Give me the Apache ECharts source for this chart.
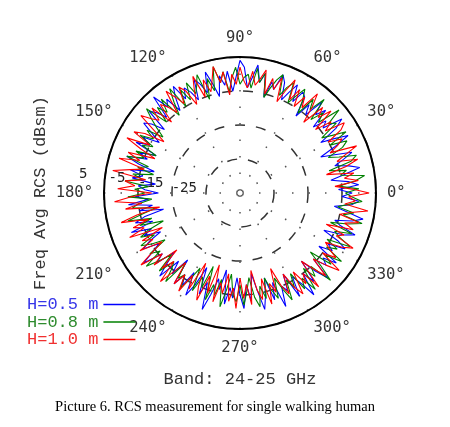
<!DOCTYPE html>
<html>
<head>
<meta charset="utf-8">
<script src="https://cdn.jsdelivr.net/npm/echarts@6/dist/echarts.min.js"></script>
<style>
html,body{margin:0;padding:0;background:#fff;}
#chart{width:450px;height:427px;}
</style>
</head>
<body>
<div id="chart"></div>
<script>
// Sample angles (degrees), 2-degree steps
const angleStep = 2;
const angles = Array.from({length: 180}, (_, i) => i * angleStep);

// Frequency-averaged RCS (dBsm) per angle (one row = 30 degrees)
const rcsH05 = [
  -2, -6, 0, -3, -8, -4, 1, -2, -6, -3, 0, -5, -9, -4, 1,
  -3, -7, -1, 2, -4, -2, -6, 0, -3, 1, -5, -2, -7, -1, 0,
  -4, 1, -2, -5, 0, 2, -3, -1, -6, 1, -2, 3, -1, -4, 2,
  4, -1, -5, 1, -3, 0, -6, -2, 2, -4, -1, 1, -5, -2, 0,
  -3, 2, -1, -5, 0, -2, 3, -4, -1, 1, -6, -2, 0, -4, -7,
  -2, -5, -1, -8, -3, -6, 0, -4, -9, -2, -6, -3, -10, -5, -7,
  -11, -4, -8, -2, -9, -5, -12, -6, -3, -8, -1, -7, -4, -9, -5,
  -2, -7, -4, 0, -6, -3, -9, -5, -1, -8, -4, -10, -2, -6, -3,
  -8, -1, -5, -11, -3, -7, 1, -4, -9, -6, -12, -2, -7, -4, -10,
  -5, -1, -8, -3, -11, -6, 0, -4, -9, -2, -7, 1, -5, -3, -8,
  0, -6, -3, 2, -5, -1, -8, -3, 1, -6, -2, -4, 0, -7, -3,
  -5, 0, -3, -8, -2, 1, -4, -6, -1, 2, -3, -7, -2, 0, -5
];
const rcsH08 = [
  -4, 0, -6, -1, 2, -5, -3, -8, -1, 1, -4, -7, -2, 0, -5,
  1, -3, -6, 0, -2, 3, -4, -1, -5, 2, -3, 0, -6, -2, 1,
  -2, -5, 1, -1, -4, 2, 0, -3, -6, 1, -2, 2, -4, 0, -1,
  -3, 2, -1, -5, 1, -2, 3, -4, 0, -6, 2, -1, -3, 1, -4,
  0, -5, 2, -2, -6, 1, -3, 0, -5, 2, -1, -4, -7, -2, -5,
  -1, -6, -3, -8, -2, -5, 0, -7, -4, -9, -3, -6, -1, -8, -4,
  -7, -2, -9, -5, -3, -10, -6, -1, -8, -4, -11, -6, -3, -7, -2,
  -5, -9, -3, -6, 0, -4, -8, -2, -7, -5, -1, -9, -4, -6, -2,
  -6, -10, -3, -8, -5, -12, -2, -7, -4, -9, -1, -6, -11, -5, -3,
  -8, -2, -6, -10, -4, -1, -7, -3, -9, -5, -2, -8, -4, 0, -6,
  -3, -7, -1, -4, 1, -6, -2, -5, 2, -3, -8, -1, -4, 1, -5,
  -2, -6, 1, -3, -5, 0, -7, -2, 2, -4, -1, -6, -3, 1, -2
];
const rcsH10 = [
  3, -2, -7, 0, -4, -1, -9, -3, 1, -5, -2, 2, -6, -3, -1,
  -5, 0, 2, -4, -1, -6, 1, -3, 0, -7, -2, 2, -4, -1, -5,
  0, -4, 2, -2, -6, 1, -3, 0, -5, 2, -1, -3, 1, -4, -2,
  2, -3, 0, -6, 1, -2, 3, -1, -4, 0, -5, 2, -2, -6, -1,
  1, -4, -1, 2, -5, -2, 0, -6, 1, -3, -1, 2, -4, -8, -2,
  1, -5, 2, -3, -8, 0, -4, 2, -6, -2, 3, -7, -1, -4, 1,
  -9, -3, 2, -6, -1, -11, -4, 1, -7, -2, -5, 0, -10, -3, -6,
  -1, -8, -4, 1, -6, -2, -10, -3, -7, 0, -5, -9, -2, -6, -1,
  -7, -3, -12, -5, -1, -9, -4, -13, -2, -8, -5, -11, -3, -7, -1,
  -10, -4, -8, -2, -12, -6, -3, -9, -1, -7, -4, -11, -5, -2, -8,
  -3, 0, -7, -2, -5, 1, -8, -4, 0, -6, -2, 2, -5, -1, -4,
  -6, -1, 2, -4, -2, -8, 0, -3, 1, -5, -2, 3, -4, -1, -3
];

const seriesNames = ['H=0.5 m', 'H=0.8 m', 'H=1.0 m'];
const seriesValues = [rcsH05, rcsH08, rcsH10];
const lineColors = ['#0000ff', '#008000', '#ff0000'];
const textColors = ['#3535e8', '#2e8b2e', '#f03030'];

const radialMin = -35, radialMax = 5, radialStep = 10;

// angle axis runs from 180 to 540 so that the radius axis sits on the left
function toAxisAngle(a) { return a < 180 ? a + 360 : a; }

function buildData(vals) {
  const d = vals.map((v, i) => [v, toAxisAngle(angles[i])]);
  d.push([vals[0], 360]);
  return d;
}

const chart = echarts.init(document.getElementById('chart'), null, {renderer: 'canvas'});
const cx = 240, cy = 193, R = 136;

const option = {
  animation: false,
  backgroundColor: '#ffffff',
  polar: [
    {center: [cx, cy], radius: R},
    {center: [cx, cy], radius: R}
  ],
  angleAxis: [
    {
      polarIndex: 0,
      type: 'value',
      startAngle: 180,
      clockwise: false,
      min: 180,
      max: 540,
      interval: 30,
      axisLine: {show: true, lineStyle: {color: '#000', width: 2}},
      axisTick: {show: false},
      axisLabel: {
        show: true,
        formatter: v => ((v % 360) + '°'),
        align: 'center',
        verticalAlign: 'middle',
        margin: 11,
        fontFamily: 'DejaVu Sans Mono',
        fontSize: 15.5,
        color: '#333'
      },
      splitLine: {show: true, lineStyle: {color: '#555', width: 1.5, type: [1.5, 15]}}
    },
    {
      polarIndex: 1,
      type: 'value',
      startAngle: 172,
      clockwise: false,
      min: 0,
      max: 360,
      axisLine: {show: false},
      axisTick: {show: false},
      axisLabel: {show: false},
      splitLine: {show: false}
    }
  ],
  radiusAxis: [
    {
      polarIndex: 0,
      type: 'value',
      min: radialMin,
      max: radialMax,
      interval: radialStep,
      axisLine: {show: false},
      axisTick: {show: false},
      axisLabel: {show: false},
      splitLine: {show: true, lineStyle: {color: '#333', width: 1.5, type: [10, 11]}}
    },
    {
      polarIndex: 1,
      type: 'value',
      z: 10,
      min: radialMin,
      max: radialMax,
      interval: radialStep,
      axisLine: {show: false},
      axisTick: {show: false},
      splitLine: {show: false},
      axisLabel: {
        show: true,
        formatter: v => (v === radialMin ? '' : String(v)),
        align: 'center',
        verticalAlign: 'middle',
        margin: 0,
        padding: [0, 44, 6, 0],
        fontFamily: 'DejaVu Sans Mono',
        fontSize: 14,
        color: '#222'
      }
    }
  ],
  legend: {
    orient: 'vertical',
    left: 22,
    top: 291,
    align: 'right',
    itemWidth: 32,
    itemHeight: 1.5,
    itemGap: 0.5,
    icon: 'rect',
    textStyle: {fontFamily: 'Liberation Mono', fontSize: 17, lineHeight: 12, padding: [0, 0, 5, 0]},
    data: seriesNames.map((n, i) => ({name: n, textStyle: {color: textColors[i]}}))
  },
  series: seriesNames.map((n, i) => ({
    name: n,
    type: 'line',
    coordinateSystem: 'polar',
    polarIndex: 0,
    showSymbol: false,
    symbol: 'none',
    color: lineColors[i],
    lineStyle: {color: lineColors[i], width: 1.1},
    data: buildData(seriesValues[i])
  })),
  graphic: [
    {
      type: 'text', x: 40, y: 193, rotation: Math.PI / 2,
      style: {text: 'Freq Avg RCS (dBsm)', fontFamily: 'Liberation Mono', fontSize: 17, fill: '#333', align: 'center', verticalAlign: 'middle'}
    },
    {
      type: 'text', x: 240, y: 379,
      style: {text: 'Band: 24-25 GHz', fontFamily: 'Liberation Mono', fontSize: 17, fill: '#333', align: 'center', verticalAlign: 'middle'}
    },
    {
      type: 'text', x: 215, y: 407,
      style: {text: 'Picture 6. RCS measurement for single walking human', fontFamily: 'Liberation Serif', fontSize: 14.5, fill: '#000', align: 'center', verticalAlign: 'middle'}
    }
  ]
};
chart.setOption(option);
</script>
</body>
</html>
